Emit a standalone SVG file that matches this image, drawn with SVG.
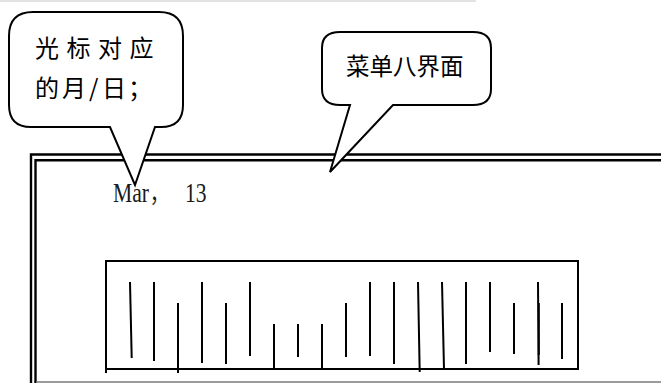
<svg xmlns="http://www.w3.org/2000/svg" width="661" height="383" viewBox="0 0 661 383">
<style>
.cjk{font-family:"Noto Sans CJK SC","Liberation Sans",sans-serif;fill:#000}
.serif{font-family:"Liberation Serif","Noto Sans CJK SC",serif;fill:#1a1a1a}
.frame{fill:none;stroke:#000;stroke-width:2.4}
.tick{stroke:#000;stroke-width:2;fill:none}
.callout{fill:#fff;stroke:#000;stroke-width:2;stroke-linejoin:miter}
</style>
<rect x="0" y="0" width="476" height="2" fill="#e2e2e2"/>
<g id="frame">
<path class="frame" d="M31,384 V154.5 H662"/>
<path class="frame" d="M35.5,384 V160.3 H662"/>
<line x1="36" y1="382" x2="661" y2="382" stroke="#7a7a7a" stroke-width="1.5"/>
<text class="serif" font-size="27" transform="translate(113,202) scale(0.8,1)"><tspan x="0">Mar</tspan><tspan x="46" font-family="Noto Sans CJK SC" font-size="24">，</tspan><tspan x="90">13</tspan></text>
</g>
<g id="scale">
<path class="tick" d="M106,261 H578 V369 H106 Z M106,369 V373"/>
<g class="tick">
<line x1="130" y1="282" x2="131.7" y2="358"/>
<line x1="154" y1="282" x2="154" y2="361"/>
<line x1="178" y1="303" x2="178" y2="373"/>
<line x1="202" y1="282" x2="202" y2="363"/>
<line x1="226" y1="303" x2="226" y2="364"/>
<line x1="250" y1="282" x2="250" y2="356"/>
<line x1="274" y1="324" x2="274" y2="369"/>
<line x1="298" y1="324" x2="298" y2="357"/>
<line x1="322" y1="324" x2="322" y2="369"/>
<line x1="346" y1="303" x2="346" y2="357"/>
<line x1="370" y1="282" x2="370" y2="356"/>
<line x1="394" y1="282" x2="394" y2="364"/>
<line x1="418" y1="282" x2="419.7" y2="372"/>
<line x1="442" y1="282" x2="444" y2="369"/>
<line x1="466" y1="282" x2="466" y2="364"/>
<line x1="490" y1="282" x2="490" y2="352"/>
<line x1="514" y1="303" x2="514" y2="354"/>
<line x1="538" y1="282" x2="538.6" y2="365"/>
<line x1="538.8" y1="303" x2="538.8" y2="355"/>
<line x1="562" y1="303" x2="562" y2="359"/>
</g>
</g>
<g id="callout-cursor">
<path class="callout" d="M33,12 H159 Q183,12 183,36 V105 Q183,127 161,127 H155 L135,185 L110,127 H31 Q9,127 9,105 V36 Q9,12 33,12 Z"/>
<text class="cjk" x="35" y="57" font-size="24" letter-spacing="7.5">光标对应</text>
<text class="cjk" y="97" font-size="24"><tspan x="35">的</tspan><tspan x="62">月</tspan><tspan x="89">/</tspan><tspan x="102">日</tspan><tspan x="128">；</tspan></text>
</g>
<g id="callout-menu">
<path class="callout" d="M340,32 H473 Q491,32 491,48 V89 Q491,105 473,105 H393 L330,172 L350,105 H340 Q322,105 322,89 V48 Q322,32 340,32 Z"/>
<text class="cjk" x="346" y="75" font-size="23.5">菜单八界面</text>
</g>
</svg>
